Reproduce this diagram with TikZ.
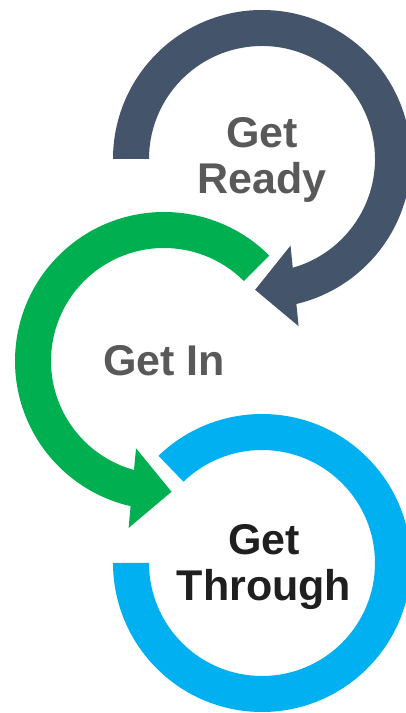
\documentclass[tikz,border=0pt]{standalone}
\usepackage{fontspec}
\setmainfont{Liberation Sans}
\usepackage{xcolor}
\usetikzlibrary{calc}

\definecolor{listo}{HTML}{44546A}
\definecolor{dentro}{HTML}{00B050}
\definecolor{atraves}{HTML}{00B0F0}
\definecolor{textogris}{HTML}{595959}

\begin{document}
\begin{tikzpicture}[x=1pt,y=1pt,
    etiqueta/.style={font=\fontsize{43}{46.3}\selectfont\bfseries, align=center, inner sep=0pt}]
        % Marco de la figura
        \useasboundingbox (0,0) rectangle (405,713);

        % Centros de los tres anillos
        \coordinate (cReady) at (262,554);
        \coordinate (cIn) at (164,352);
        \coordinate (cThrough) at (262,150);

        % Anillo superior (Get Ready), sentido horario
        \fill[listo] ($(cReady)+(180:149)$) arc[start angle=180, end angle=-79, radius=149]
            -- ($(cReady)+(-79:113)$) arc[start angle=-79, end angle=180, radius=113] -- cycle;
        \coordinate (bReady) at ($(cReady)+(-75.6:131)$); % base de la flecha
        \coordinate (pReady) at ($(cReady)+(-93:131)$);   % punta de la flecha
        \fill[listo] ($(bReady)!40.5pt!90:(pReady)$) -- (pReady) -- ($(bReady)!40.5pt!-90:(pReady)$) -- cycle;

        % Anillo central (Get In), sentido antihorario
        \fill[dentro] ($(cIn)+(45:149)$) arc[start angle=45, end angle=259.5, radius=149]
            -- ($(cIn)+(259.5:113)$) arc[start angle=259.5, end angle=45, radius=113] -- cycle;
        \coordinate (bIn) at ($(cIn)+(256:131)$);   % base de la flecha
        \coordinate (pIn) at ($(cIn)+(273.3:131)$); % punta de la flecha
        \fill[dentro] ($(bIn)!40pt!90:(pIn)$) -- (pIn) -- ($(bIn)!40pt!-90:(pIn)$) -- cycle;

        % Anillo inferior (Get Through), sin flecha
        \fill[atraves] ($(cThrough)+(134:149)$) arc[start angle=134, end angle=-180, radius=149]
            -- ($(cThrough)+(180:113)$) arc[start angle=-180, end angle=134, radius=113] -- cycle;

        % Etiquetas de cada etapa
        \node[etiqueta, text=textogris] (ready) at (262,552.9) {Get\\Ready};
        \node[etiqueta, text=textogris] (in) at (164,352.7) {Get In};
        \node[etiqueta, text=black!88] (through) at (264,146) {Get\\Through};
    \end{tikzpicture}
\end{document}
